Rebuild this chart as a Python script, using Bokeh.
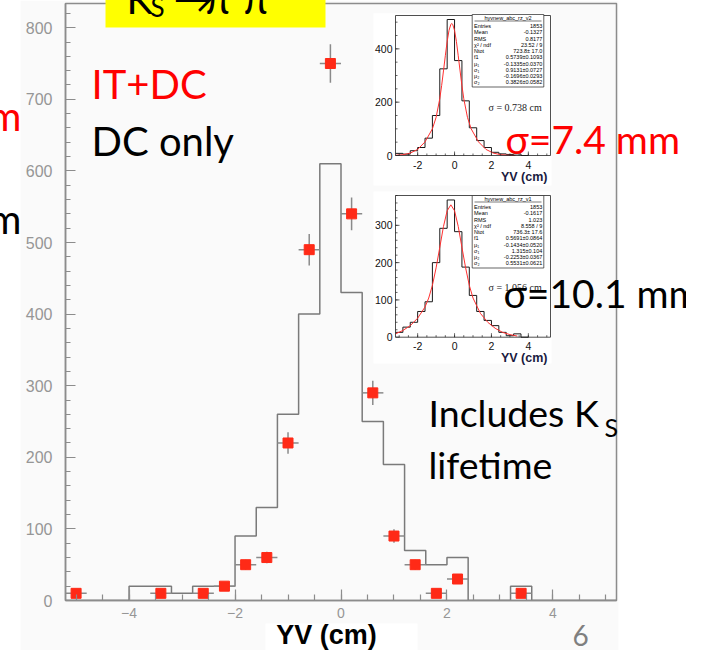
from bokeh.plotting import figure
from bokeh.models import Range1d, FixedTicker
from bokeh.core.properties import value
from bokeh.embed import file_html
from bokeh.resources import INLINE

# ---------------- data : main plot ----------------
dc_edges = [-5.2, -4.8, -4.4, -4.0, -3.6, -3.2, -2.8, -2.4, -2.0, -1.6, -1.2, -0.8, -0.4,
            0.0, 0.4, 0.8, 1.2, 1.6, 2.0, 2.4, 2.8, 3.2, 3.6, 4.0, 4.4, 4.8, 5.2]
dc_counts = [0, 0, 0, 20, 20, 10, 20, 20, 90, 130, 260, 400, 610,
             430, 250, 190, 70, 50, 60, 0, 0, 20, 0, 0, 0, 0]

it_x = [-5.0, -3.4, -2.6, -2.2, -1.8, -1.4, -1.0, -0.6, -0.2, 0.2, 0.6, 1.0, 1.4, 1.8, 2.2, 3.4]
it_y = [10, 10, 10, 20, 50, 60, 220, 490, 750, 540, 290, 90, 50, 10, 30, 10]
it_err = [3, 3, 3, 4.5, 7, 8, 15, 22, 27, 23, 17, 9.5, 7, 3, 5.5, 3]
bin_half = 0.2

main_x_ticks = [-4, -2, 0, 2, 4]
main_x_labels = ["\u22124", "\u22122", "0", "2", "4"]
main_y_ticks = [0, 100, 200, 300, 400, 500, 600, 700, 800]

# ---------------- data : insets ----------------
ins_edges = [-3.2, -2.8, -2.4, -2.0, -1.6, -1.2, -0.8, -0.4, 0.0, 0.4, 0.8,
             1.2, 1.6, 2.0, 2.4, 2.8, 3.2, 3.6, 4.0]
ins1_counts = [8, 5, 18, 30, 65, 150, 325, 510, 356, 205, 104, 56, 30, 12, 6, 4, 6, 0]
ins2_counts = [13, 27, 40, 69, 95, 200, 292, 368, 283, 188, 112, 69, 45, 31, 13, 4, 9, 0]

fit1_x = [-3.2, -2.8, -2.4, -2.0, -1.6, -1.2, -1.0, -0.8, -0.7, -0.6, -0.5, -0.4, -0.3, -0.2,
          -0.15, -0.1, 0.0, 0.1, 0.2, 0.3, 0.4, 0.5, 0.7, 0.9, 1.3, 1.7, 2.1, 2.5, 2.9, 3.3]
fit1_y = [1, 3, 9, 23, 51, 100, 143, 213, 262, 317, 374, 428, 469, 492,
          495, 492, 469, 428, 374, 317, 262, 213, 143, 100, 51, 23, 9, 3, 1, 0]
fit2_x = [-3.2, -2.8, -2.4, -2.0, -1.6, -1.4, -1.2, -1.0, -0.8, -0.6, -0.4, -0.2, 0.0,
          0.2, 0.4, 0.6, 0.8, 1.0, 1.4, 1.8, 2.2, 2.6, 3.0, 3.4]
fit2_y = [9, 18, 31, 51, 81, 105, 139, 186, 241, 297, 339, 355, 339,
          297, 241, 186, 139, 105, 64, 40, 24, 13, 7, 3]

ins_x_ticks = [-2, 0, 2, 4]
ins_x_labels = ["-2", "0", "2", "4"]
ins1_y_ticks = [0, 200, 400]
ins2_y_ticks = [0, 100, 200, 300]

stat_names = ["Entries", "Mean", "RMS", "\u03c7\u00b2 / ndf", "Ntot", "f1",
              "\u03bc\u2081", "\u03c3\u2081", "\u03bc\u2082", "\u03c3\u2082"]
stats1_title = "hyvnew_abc_rz_v2"
stats1_vals = ["1853", "-0.1327", "0.8177", "23.52 / 9", "723.8\u00b1 17.0", "0.5739\u00b10.1093",
               "-0.1335\u00b10.0370", "0.9131\u00b10.0727", "-0.1696\u00b10.0293", "0.3826\u00b10.0582"]
stats2_title = "hyvnew_abc_rz_v1"
stats2_vals = ["1853", "-0.1617", "1.023", "8.558 / 9", "736.3\u00b1 17.6", "0.5691\u00b10.0864",
               "-0.1434\u00b10.0520", "1.315\u00b10.104", "-0.2253\u00b10.0367", "0.5531\u00b10.0621"]
sigma1_text = "\u03c3 = 0.738 cm"
sigma2_text = "\u03c3 = 1.056 cm"

# ---------------- layout (canvas pixels) ----------------
W, H = 686, 650
FL, FR, FT, FB = 65, 616, 3, 600          # main frame edges
GRAY = "#8c8c8c"
LGRAY = "#969696"
RED = "#ff2a17"
BG = "#fafafa"
BASE_FIX = 0.36   # measured shift of the rendered alphabetic baseline (in em)


def mapped_range(d0, d1, p0, p1, f0, f1):
    k = (d1 - d0) / (p1 - p0)
    return Range1d(start=d0 + (f0 - p0) * k, end=d0 + (f1 - p0) * k)


p = figure(width=W, height=H, x_range=Range1d(-5.2, 5.2),
           y_range=mapped_range(0, 800, 600, 27.2, FB, FT),
           output_backend="svg", toolbar_location=None, title=None,
           min_border_left=FL, min_border_right=W - FR,
           min_border_top=FT, min_border_bottom=H - FB,
           background_fill_color=BG, border_fill_color=BG)

p.extra_x_ranges = {"px": Range1d(FL, FR),
                    "ix": mapped_range(-3.2, 5.2, 395, 550, FL, FR)}
p.extra_y_ranges = {"py": Range1d(FB, FT),
                    "i1y": mapped_range(0, 525, 155, 15, FB, FT),
                    "i2y": mapped_range(0, 380, 336.7, 195, FB, FT)}

p.xgrid.visible = False
p.ygrid.visible = False
p.outline_line_color = GRAY
p.outline_line_width = 1.5

p.xaxis.ticker = FixedTicker(ticks=main_x_ticks, minor_ticks=[i * 0.5 for i in range(-10, 11)])
p.xaxis.major_label_overrides = dict(zip(main_x_ticks, main_x_labels))
p.yaxis.ticker = FixedTicker(ticks=main_y_ticks, minor_ticks=[i * 20 for i in range(0, 42)])
for ax in (p.xaxis[0], p.yaxis[0]):
    ax.axis_line_color = GRAY
    ax.axis_line_width = 1.5
    ax.major_tick_line_color = GRAY
    ax.minor_tick_line_color = GRAY
    ax.major_tick_line_width = 1.2
    ax.minor_tick_line_width = 1.2
    ax.major_tick_out = 0
    ax.minor_tick_out = 0
    ax.major_label_text_color = LGRAY
    ax.major_label_text_font = "Liberation Sans"
p.xaxis.major_tick_in = 11
p.xaxis.minor_tick_in = 6
p.xaxis.major_label_text_font_size = "14px"
p.xaxis.major_label_standoff = 7
p.yaxis.major_tick_in = 10
p.yaxis.minor_tick_in = 5
p.yaxis.major_label_text_font_size = "16px"
p.yaxis.major_label_standoff = 13

# ---------------- main plot ----------------
p.step(x=dc_edges, y=dc_counts + [0], mode="after", line_color="#7a7a7a", line_width=1.5)
p.segment(x0=[x - bin_half for x in it_x], y0=it_y, x1=[x + bin_half for x in it_x], y1=it_y,
          line_color="#8a8a8a", line_width=1.5)
p.segment(x0=it_x, y0=[y - e for y, e in zip(it_y, it_err)], x1=it_x,
          y1=[y + e for y, e in zip(it_y, it_err)], line_color="#8a8a8a", line_width=1.5)
p.scatter(it_x, it_y, marker="square", size=10, fill_color=RED, line_color=RED)


def ptext(xs, ys, texts, xr, yr, size, color="black", font="Liberation Sans", style="normal",
          align="left", baseline="middle", xo=0, yo=0, level="glyph"):
    p.text(x=xs, y=ys, text=texts, x_range_name=xr, y_range_name=yr,
           text_font=value(font), text_font_size=value(f"{size}px"), text_color=color,
           text_font_style=style, text_align=align, text_baseline=baseline,
           x_offset=xo, y_offset=yo, level=level)


def draw_inset(yname, counts, fx, fy, y_top, y_ticks, y_minor_step, bg, stats_top,
               stats_title, stats_vals, sigma_text, sigma_y):
    p.quad(left=[bg[0]], right=[bg[1]], top=[bg[2]], bottom=[bg[3]], x_range_name="px",
           y_range_name="py", fill_color="white", line_color=None)
    p.step(x=ins_edges, y=counts + [0], mode="after", x_range_name="ix", y_range_name=yname,
           line_color="#1a1a1a", line_width=1)
    p.line(fx, fy, x_range_name="ix", y_range_name=yname, line_color="#ff3030", line_width=1)
    p.quad(left=[-3.2], right=[5.2], bottom=[0], top=[y_top], x_range_name="ix",
           y_range_name=yname, fill_color=None, line_color="#222222", line_width=0.8)
    yminor = [v * y_minor_step for v in range(1, int(y_top / y_minor_step) + 1)]
    p.ray(x=[-3.2] * len(yminor), y=yminor, length=2, length_units="screen", angle=0,
          x_range_name="ix", y_range_name=yname, line_color="#222222", line_width=0.7)
    p.ray(x=[-3.2] * len(y_ticks), y=y_ticks, length=4, length_units="screen", angle=0,
          x_range_name="ix", y_range_name=yname, line_color="#222222", line_width=0.7)
    xminor = [i * 0.5 for i in range(-6, 11)]
    p.ray(x=xminor, y=[0] * len(xminor), length=2, length_units="screen", angle=1.5708,
          x_range_name="ix", y_range_name=yname, line_color="#222222", line_width=0.7)
    p.ray(x=ins_x_ticks, y=[0] * len(ins_x_ticks), length=4, length_units="screen",
          angle=1.5708, x_range_name="ix", y_range_name=yname, line_color="#222222",
          line_width=0.7)
    ptext([-3.2] * len(y_ticks), y_ticks, [str(v) for v in y_ticks], "ix", yname, 10.5,
          color="#111111", align="right", baseline="middle", xo=-3)
    ptext(ins_x_ticks, [0] * len(ins_x_ticks), ins_x_labels, "ix", yname, 10.5,
          color="#111111", align="center", baseline="top", yo=5)
    ptext([5.2], [0], ["YV (cm)"], "ix", yname, 12.5, color="#1a1a40", style="bold",
          align="right", baseline="top", xo=-3, yo=14)
    p.quad(left=[471.7], right=[543.3], top=[stats_top], bottom=[stats_top + 72.5],
           x_range_name="px", y_range_name="py", fill_color="white", line_color="#222222",
           line_width=0.7)
    p.segment(x0=[474], x1=[541], y0=[stats_top + 6.5], y1=[stats_top + 6.5],
              x_range_name="px", y_range_name="py", line_color="#222222", line_width=0.6)
    ptext([507.5], [stats_top + 3.3], [stats_title], "px", "py", 5.5, align="center")
    rows = [stats_top + 11.5 + i * 6.25 for i in range(len(stats_vals))]
    ptext([473.5] * len(rows), rows, stat_names, "px", "py", 5.5, align="left")
    ptext([541.8] * len(rows), rows, stats_vals, "px", "py", 5.5, align="right")
    ptext([488], [sigma_y - BASE_FIX * 10], [sigma_text], "px", "py", 10,
          font="Liberation Serif", color="#222222", align="left", baseline="alphabetic")


draw_inset("i1y", ins1_counts, fit1_x, fit1_y, 525, ins1_y_ticks, 50,
           (373, 551, 12.7, 185), 14, stats1_title, stats1_vals, sigma1_text, 111)
draw_inset("i2y", ins2_counts, fit2_x, fit2_y, 380, ins2_y_ticks, 20,
           (373, 551, 191, 363), 195, stats2_title, stats2_vals, sigma2_text, 291)

# yellow title box (cut at the top of the slide)
p.quad(left=[105], right=[325], top=[-5], bottom=[27], x_range_name="px", y_range_name="py",
       fill_color="#ffff00", line_color=None, level="overlay")

# white areas of the slide outside the ROOT picture (drawn above the frame, unclipped)
for (l, r, t, b) in [(-5, 20, -5, 670), (618, 710, -5, 670), (265, 417, 623, 670)]:
    p.quad(left=[l], right=[r], top=[t], bottom=[b], x_range_name="px", y_range_name="py",
           fill_color="white", line_color=None, level="overlay")


def plabel(text, x, y, size, color="black", font="Lato", style="normal", align="left"):
    ptext([x], [y - BASE_FIX * size], [text], "px", "py", size, color=color, font=font,
          style=style, align=align, baseline="alphabetic", level="overlay")


plabel("K", 126, 13, 40)
plabel("S", 150, 16, 26)
plabel("\u2192", 173, 12, 40)
plabel("\u03c0\u207a\u03c0\u207b", 205, 13, 40)

plabel("m", -12, 130, 40, color="#ff0000")
plabel("m", -12, 233, 40)
plabel("IT+DC", 91, 98, 40, color="#ff0000")
plabel("DC only", 91, 155, 40)
plabel("\u03c3=7.4 mm", 505, 153, 39, color="#ff0000")
plabel("\u03c3=10.1 mm", 503, 307, 39)
plabel("Includes K", 428, 425, 37.5)
plabel("S", 604, 435, 25)
plabel("lifetime", 428, 477, 37.5)
plabel("6", 580, 645, 28, color="#7f7f7f", align="center")
plabel("YV (cm)", 326, 644, 27, font="Liberation Sans", style="bold", align="center")

open("out.html", "w").write(file_html(p, INLINE))
